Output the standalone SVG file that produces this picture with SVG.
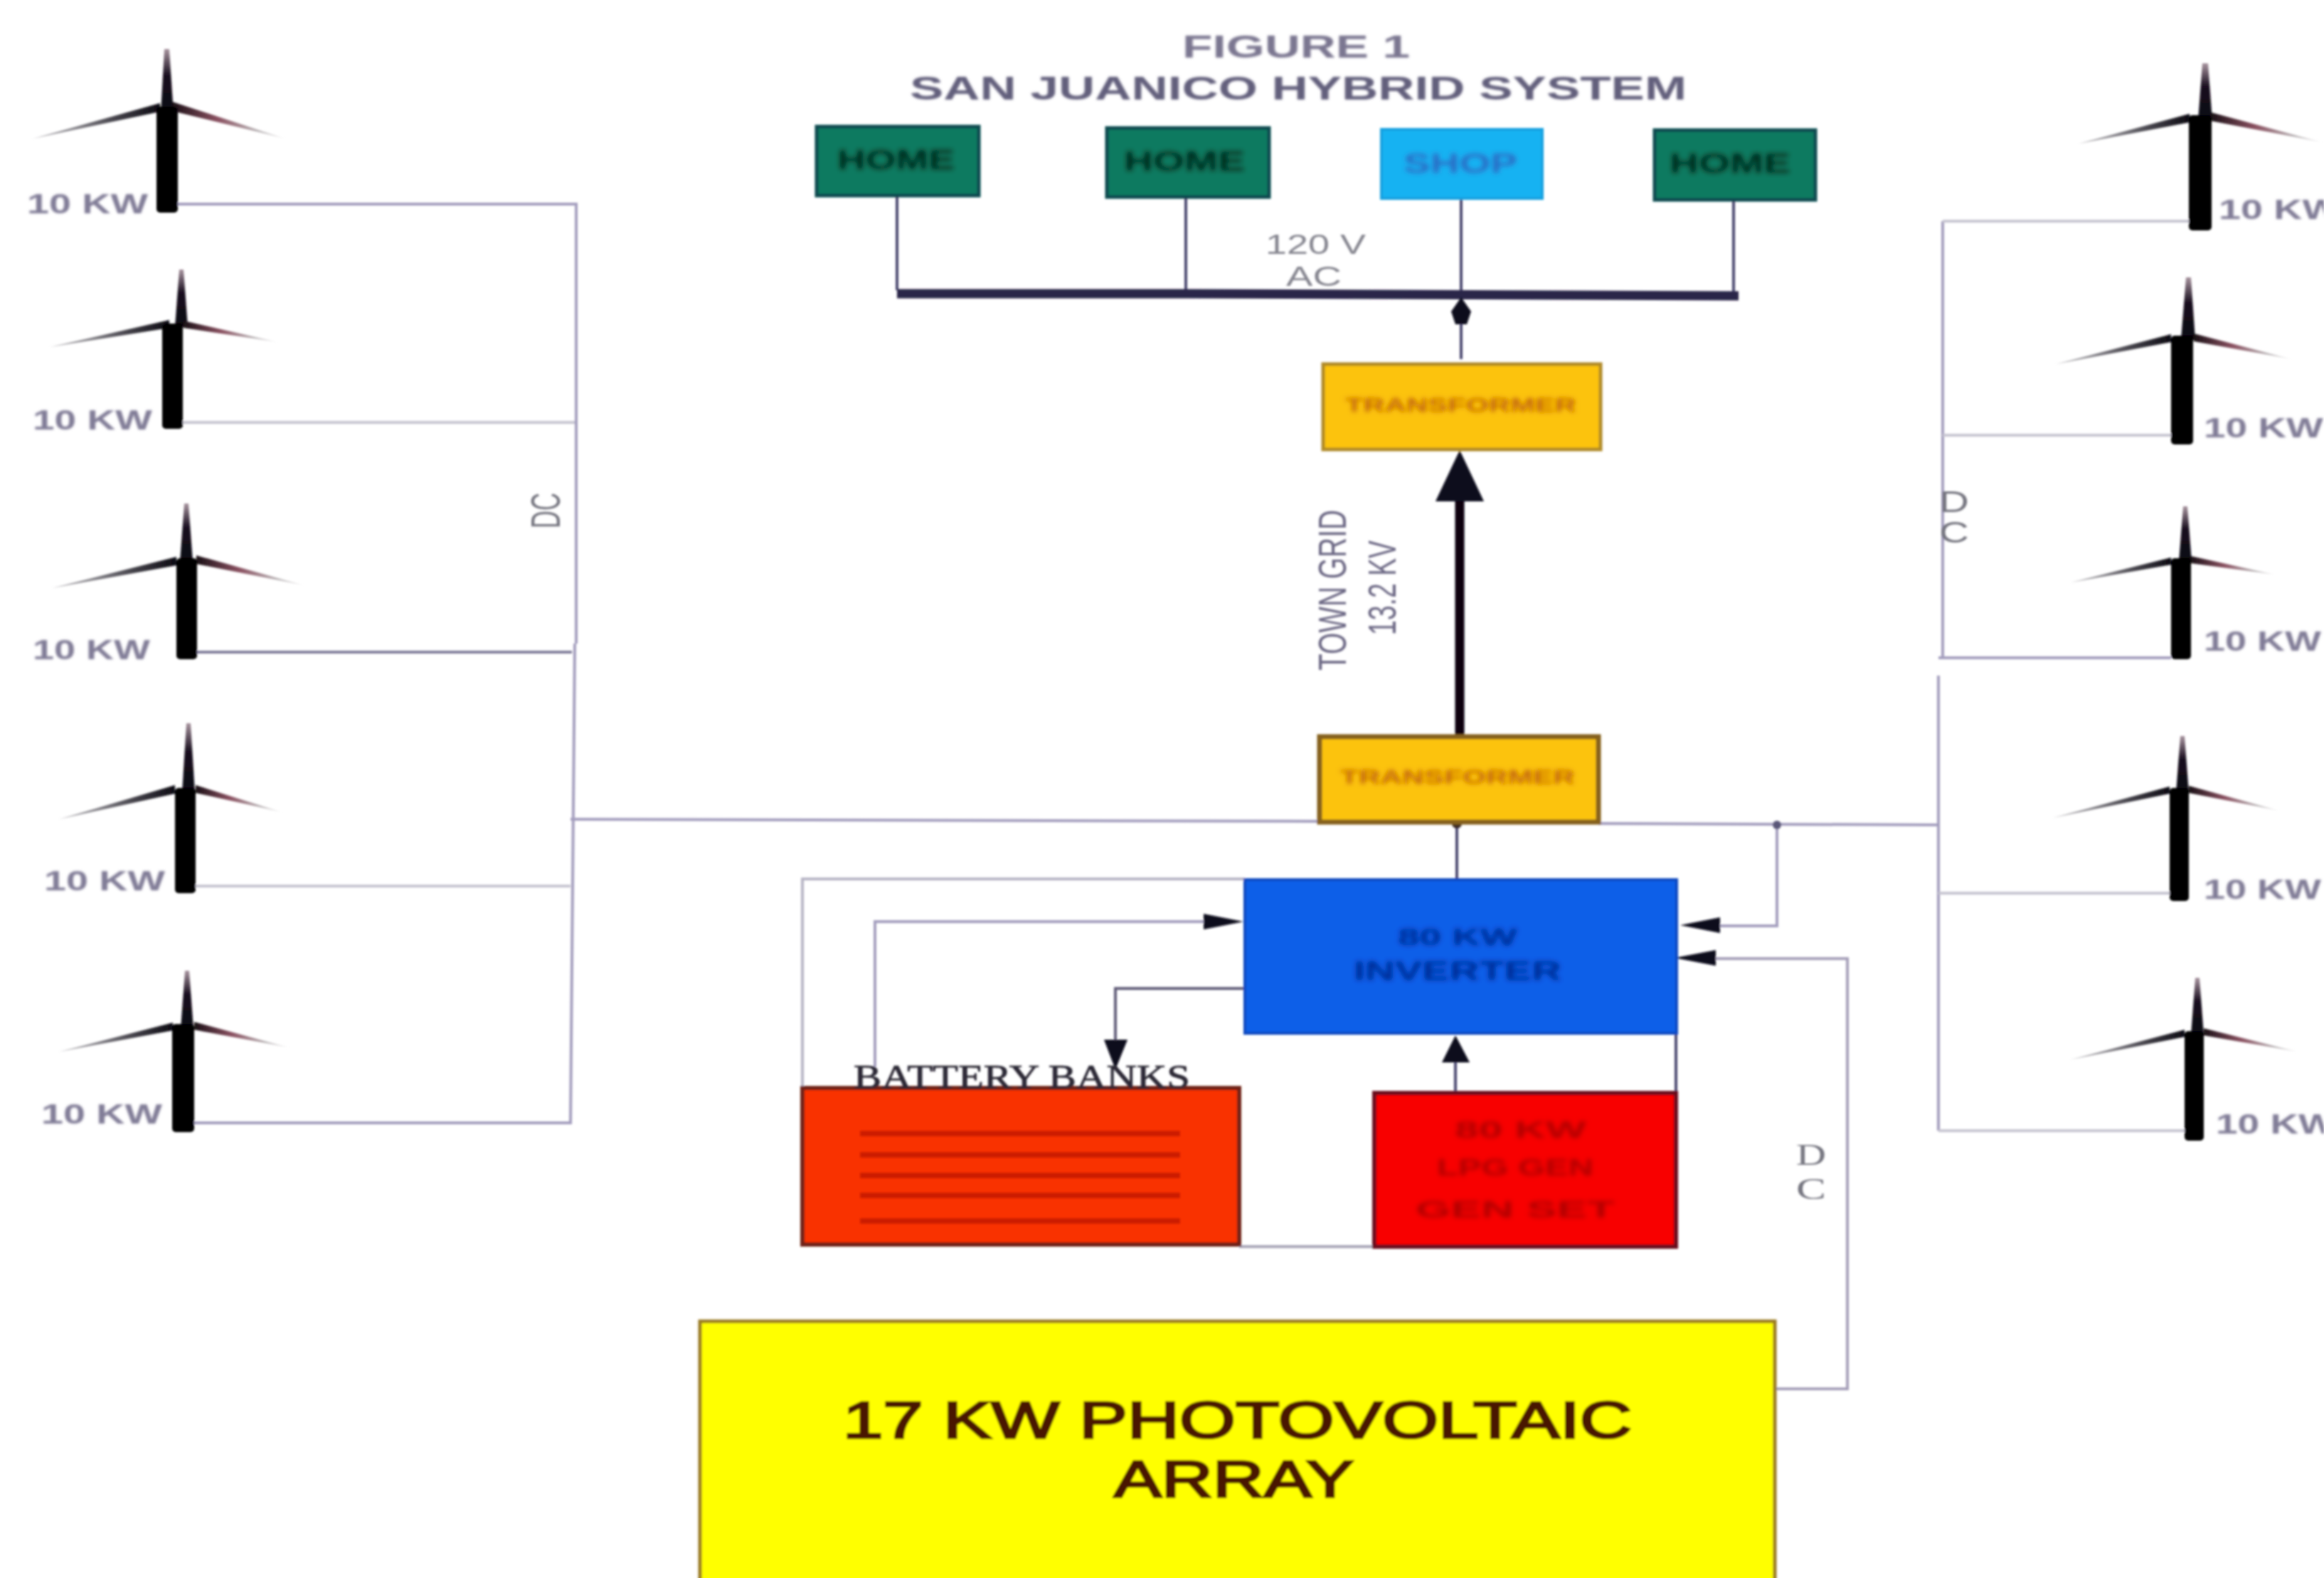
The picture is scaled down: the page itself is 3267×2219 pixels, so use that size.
<svg xmlns="http://www.w3.org/2000/svg" width="3267" height="2219" viewBox="0 0 3267 2219">
<style>
text{font-family:"Liberation Sans",Arial,sans-serif}
.wire{fill:none;stroke:#a39dbd;stroke-width:4}
.pale{fill:none;stroke:#c6c4d0;stroke-width:4}
.thin{fill:none;stroke:#4a4670;stroke-width:4}
.bus{fill:none;stroke:#2a2548;stroke-width:13}
.head{fill:#0c0a1c}
.tower{fill:#020104}
.mast{fill:url(#gMast)}
.bl{fill:url(#gLeft)}
.br{fill:url(#gRight)}
.kw{font-size:38px;font-weight:bold;fill:#807b96;filter:url(#light)}
.cap{fill:#6c6884}
.home rect{fill:#0d7a60;stroke:#0d4a50;stroke-width:5}
.home text{font-size:38px;font-weight:bold;fill:#032c1c;filter:url(#heavy)}
.shop rect{fill:#18b2f2;stroke:#14a0e0;stroke-width:4}
.shop text{font-size:38px;font-weight:bold;fill:#2a6cc4;filter:url(#heavy)}
.xf rect{fill:#fcc308;stroke:#b08a28;stroke-width:5}
.xf text{font-size:28px;font-weight:bold;fill:#c0620c;filter:url(#heavy)}
.soft-lbl{filter:url(#heavy)}
</style>
<defs>
<filter id="soft" filterUnits="userSpaceOnUse" x="0" y="0" width="3267" height="2219"><feGaussianBlur stdDeviation="1.6"/></filter>
<filter id="light" filterUnits="userSpaceOnUse" x="0" y="0" width="3267" height="2219"><feGaussianBlur stdDeviation="1"/></filter>
<filter id="heavy" filterUnits="userSpaceOnUse" x="0" y="0" width="3267" height="2219"><feGaussianBlur stdDeviation="3.2"/></filter>
<linearGradient id="gMast" x1="0" y1="1" x2="0" y2="0"><stop offset="0" stop-color="#08050f"/><stop offset=".6" stop-color="#1a1020"/><stop offset="1" stop-color="#a8949f"/></linearGradient>
<linearGradient id="gLeft" x1="1" y1="0" x2="0" y2="0"><stop offset="0" stop-color="#0c0a12"/><stop offset=".35" stop-color="#44424a"/><stop offset=".7" stop-color="#8c8a90"/><stop offset="1" stop-color="#b4b2b6"/></linearGradient>
<linearGradient id="gRight" x1="0" y1="0" x2="1" y2="0"><stop offset="0" stop-color="#1a1016"/><stop offset=".4" stop-color="#8a5060"/><stop offset=".75" stop-color="#b8b2b4"/><stop offset="1" stop-color="#f0eff0"/></linearGradient>
</defs>
<rect width="3267" height="2219" fill="#ffffff"/>
<g filter="url(#soft)">
<g id="connectors">
<path class="wire" d="M250 287H810V905"/>
<path class="pale" d="M255 594H808"/>
<path class="thin" style="stroke:#7f7a99" d="M276 917H804"/>
<path class="wire" d="M808 905L802 1579H270"/>
<path class="pale" d="M275 1246H802"/>
<path class="wire" d="M802 1152L1860 1155M2247 1158L2725 1160"/>
<path class="wire" d="M2731 311V927M2725 950V1590"/>
<path class="pale" d="M2731 311H3077M2731 612H3052M2725 1256H3050M2725 1590H3071"/>
<path class="wire" d="M2725 925H3052"/>
<path class="thin" d="M1261 275V408M1667 277V408M2054 279V410M2437 281V410"/>
<path class="bus" d="M1261 413H1670L2444 416"/>
<path class="thin" d="M2054 505V425"/>
<polygon class="head" points="2054,418 2040,438 2046,456 2062,456 2068,438"/>
<path d="M2052 1038V690" fill="none" stroke="#08050f" stroke-width="13"/>
<polygon class="head" points="2052,633 2086,705 2018,705"/>
<path class="thin" d="M2048 1156V1237"/>
<path class="pale" style="stroke:#b6b4c4" d="M1750 1236H1128V1530"/>
<path class="wire" d="M1230 1500V1296H1700"/>
<polygon class="head" points="1748,1296 1692,1285 1692,1307"/>
<path class="thin" style="stroke:#605c78" d="M1750 1390H1568V1465"/>
<polygon class="head" points="1568,1504 1552,1462 1585,1462"/>
<path class="thin" d="M2046 1537V1488"/>
<polygon class="head" points="2046,1456 2066,1494 2027,1494"/>
<path class="thin" d="M2356 1453V1537"/>
<path class="wire" style="stroke:#a6a3b5" d="M1742 1753H1932"/>
<path class="wire" d="M2498 1160V1302H2410"/>
<polygon class="head" points="2362,1301 2418,1290 2418,1312"/>
<path class="wire" style="stroke:#a49eb8" d="M2495 1953H2597V1348H2408"/>
<polygon class="head" points="2354,1347 2412,1336 2412,1358"/>
<circle cx="2498" cy="1160" r="6" fill="#5a5678"/>
<circle cx="2048" cy="1158" r="7" fill="#3a2c20"/>
</g>

<g id="title">
<text class="cap" x="1662" y="81" font-size="44" font-weight="bold" textLength="320" lengthAdjust="spacingAndGlyphs" style="fill:#7a7690;filter:url(#light)">FIGURE 1</text>
<text class="cap" x="1279" y="140" font-size="46" font-weight="bold" textLength="1092" lengthAdjust="spacingAndGlyphs" style="fill:#625e7c;filter:url(#light)">SAN JUANICO HYBRID SYSTEM</text>
</g>

<g id="home1" class="home"><rect x="1148" y="178" width="228" height="97"/><text x="1177" y="238" textLength="165" lengthAdjust="spacingAndGlyphs">HOME</text></g>
<g id="home2" class="home"><rect x="1556" y="180" width="228" height="97"/><text x="1580" y="240" textLength="170" lengthAdjust="spacingAndGlyphs">HOME</text></g>
<g id="shop" class="shop"><rect x="1942" y="182" width="226" height="97"/><text x="1973" y="243" textLength="160" lengthAdjust="spacingAndGlyphs">SHOP</text></g>
<g id="home3" class="home"><rect x="2326" y="183" width="226" height="98"/><text x="2347" y="243" textLength="170" lengthAdjust="spacingAndGlyphs">HOME</text></g>

<g id="ac-label" fill="#85858f">
<text x="1779" y="357" font-size="38" textLength="141" lengthAdjust="spacingAndGlyphs">120 V</text>
<text x="1808" y="402" font-size="38" textLength="78" lengthAdjust="spacingAndGlyphs">AC</text>
</g>

<g id="transformer-top" class="xf"><rect x="1860" y="512" width="390" height="120"/><text x="1891" y="579" textLength="325" lengthAdjust="spacingAndGlyphs">TRANSFORMER</text></g>
<g id="town-grid" class="cap">
<text transform="translate(1892 943) rotate(-90)" font-size="56" textLength="226" lengthAdjust="spacingAndGlyphs">TOWN GRID</text>
<text transform="translate(1962 893) rotate(-90)" font-size="56" textLength="133" lengthAdjust="spacingAndGlyphs">13.2 KV</text>
</g>
<g id="transformer-bottom" class="xf"><rect x="1855" y="1036" width="392" height="120" style="stroke:#85601c;stroke-width:7"/><text x="1884" y="1102" textLength="330" lengthAdjust="spacingAndGlyphs">TRANSFORMER</text></g>

<g id="inverter">
<rect x="1750" y="1237" width="607" height="216" fill="#0a5ee8" stroke="#0a48c0" stroke-width="4"/>
<text class="soft-lbl" x="1965" y="1329" font-size="34" font-weight="bold" fill="#062c94" textLength="168" lengthAdjust="spacingAndGlyphs">80 KW</text>
<text class="soft-lbl" x="1903" y="1378" font-size="36" font-weight="bold" fill="#062c94" textLength="292" lengthAdjust="spacingAndGlyphs">INVERTER</text>
</g>

<g id="battery">
<rect x="1128" y="1530" width="614" height="220" fill="#f93200" stroke="#702018" stroke-width="6"/>
<path fill="none" stroke="#cc1c00" stroke-width="8" d="M1209 1594H1659M1209 1624H1659M1209 1653H1659M1209 1681H1659M1209 1717H1659"/>
<text x="1200" y="1530" font-size="46" style="font-family:'Liberation Serif',serif" fill="#2a2834" stroke="#2a2834" stroke-width=".8" textLength="473" lengthAdjust="spacingAndGlyphs">BATTERY BANKS</text>
</g>

<g id="generator">
<rect x="1932" y="1537" width="424" height="216" fill="#f80000" stroke="#6a0a1c" stroke-width="6"/>
<g class="soft-lbl" font-size="34" font-weight="bold" fill="#b00000">
<text x="2045" y="1600" textLength="185" lengthAdjust="spacingAndGlyphs">80 KW</text>
<text x="2020" y="1653" textLength="220" lengthAdjust="spacingAndGlyphs">LPG GEN</text>
<text x="1990" y="1712" textLength="280" lengthAdjust="spacingAndGlyphs">GEN SET</text>
</g>
</g>

<g id="pv-array">
<rect x="984" y="1858" width="1511" height="400" fill="#ffff00" stroke="#9a7a20" stroke-width="5"/>
<g font-size="72" fill="#4a1400" stroke="#4a1400" stroke-width="3">
<text x="1185" y="2022" textLength="1109" lengthAdjust="spacingAndGlyphs">17 KW PHOTOVOLTAIC</text>
<text x="1566" y="2105" textLength="337" lengthAdjust="spacingAndGlyphs">ARRAY</text>
</g>
</g>

<g id="dc-labels" fill="#75757f">
<text transform="translate(787 743) rotate(-90)" font-size="58" textLength="50" lengthAdjust="spacingAndGlyphs">DC</text>
<text x="2726" y="720" font-size="42" textLength="42" lengthAdjust="spacingAndGlyphs">D</text>
<text x="2726" y="763" font-size="42" textLength="42" lengthAdjust="spacingAndGlyphs">C</text>
<text x="2525" y="1638" font-size="42" style="font-family:'Liberation Serif',serif" textLength="42" lengthAdjust="spacingAndGlyphs">D</text>
<text x="2525" y="1686" font-size="42" style="font-family:'Liberation Serif',serif" textLength="42" lengthAdjust="spacingAndGlyphs">C</text>
</g>

<g id="turbine-l1"><polygon class="mast" points="226,160 244,160 238,69 231,69"/><polygon class="bl" points="225,145 46,195 225,157"/><polygon class="br" points="242,143 401,195 242,156"/><rect class="tower" x="220" y="150" width="30" height="149" rx="5"/><text class="kw" x="38" y="300" textLength="170" lengthAdjust="spacingAndGlyphs">10 KW</text></g>
<g id="turbine-l2"><polygon class="mast" points="246,460 264,460 258,379 252,379"/><polygon class="bl" points="238,450 70,488 238,461"/><polygon class="br" points="258,451 390,481 258,461"/><rect class="tower" x="228" y="455" width="29" height="148" rx="5"/><text class="kw" x="46" y="604" textLength="168" lengthAdjust="spacingAndGlyphs">10 KW</text></g>
<g id="turbine-l3"><polygon class="mast" points="253,790 271,790 265,708 259,708"/><polygon class="bl" points="248,783 73,827 248,795"/><polygon class="br" points="276,781 427,823 276,793"/><rect class="tower" x="248" y="785" width="29" height="142" rx="5"/><text class="kw" x="46" y="927" textLength="165" lengthAdjust="spacingAndGlyphs">10 KW</text></g>
<g id="turbine-l4"><polygon class="mast" points="256,1115 274,1115 268,1017 262,1017"/><polygon class="bl" points="246,1104 83,1152 246,1116"/><polygon class="br" points="275,1104 396,1142 275,1115"/><rect class="tower" x="246" y="1108" width="29" height="148" rx="5"/><text class="kw" x="62" y="1252" textLength="170" lengthAdjust="spacingAndGlyphs">10 KW</text></g>
<g id="turbine-l5"><polygon class="mast" points="254,1447 272,1447 266,1365 260,1365"/><polygon class="bl" points="243,1438 83,1479 243,1449"/><polygon class="br" points="273,1437 406,1473 273,1448"/><rect class="tower" x="242" y="1440" width="31" height="152" rx="5"/><text class="kw" x="58" y="1580" textLength="170" lengthAdjust="spacingAndGlyphs">10 KW</text></g>

<g id="turbine-r1"><polygon class="mast" points="3090,170 3110,170 3104,89 3096,89"/><polygon class="bl" points="3078,160 2922,202 3078,172"/><polygon class="br" points="3108,158 3264,200 3108,170"/><rect class="tower" x="3077" y="162" width="32" height="162" rx="5"/><text class="kw" x="3119" y="308" textLength="170" lengthAdjust="spacingAndGlyphs">10 KW</text></g>
<g id="turbine-r2"><polygon class="mast" points="3066,478 3086,478 3080,390 3073,390"/><polygon class="bl" points="3052,470 2890,512 3052,481"/><polygon class="br" points="3084,469 3221,505 3084,480"/><rect class="tower" x="3052" y="472" width="31" height="153" rx="5"/><text class="kw" x="3098" y="615" textLength="168" lengthAdjust="spacingAndGlyphs">10 KW</text></g>
<g id="turbine-r3"><polygon class="mast" points="3063,790 3081,790 3075,712 3069,712"/><polygon class="bl" points="3052,784 2911,819 3052,794"/><polygon class="br" points="3080,782 3198,808 3080,792"/><rect class="tower" x="3052" y="785" width="28" height="142" rx="5"/><text class="kw" x="3098" y="915" textLength="165" lengthAdjust="spacingAndGlyphs">10 KW</text></g>
<g id="turbine-r4"><polygon class="mast" points="3059,1115 3077,1115 3071,1035 3065,1035"/><polygon class="bl" points="3050,1106 2886,1150 3050,1116"/><polygon class="br" points="3077,1105 3204,1140 3077,1115"/><rect class="tower" x="3050" y="1108" width="27" height="159" rx="5"/><text class="kw" x="3098" y="1264" textLength="165" lengthAdjust="spacingAndGlyphs">10 KW</text></g>
<g id="turbine-r5"><polygon class="mast" points="3080,1456 3098,1456 3092,1375 3086,1375"/><polygon class="bl" points="3071,1448 2911,1490 3071,1458"/><polygon class="br" points="3098,1446 3230,1479 3098,1456"/><rect class="tower" x="3071" y="1450" width="27" height="154" rx="5"/><text class="kw" x="3115" y="1594" textLength="168" lengthAdjust="spacingAndGlyphs">10 KW</text></g>
</g>
</svg>
